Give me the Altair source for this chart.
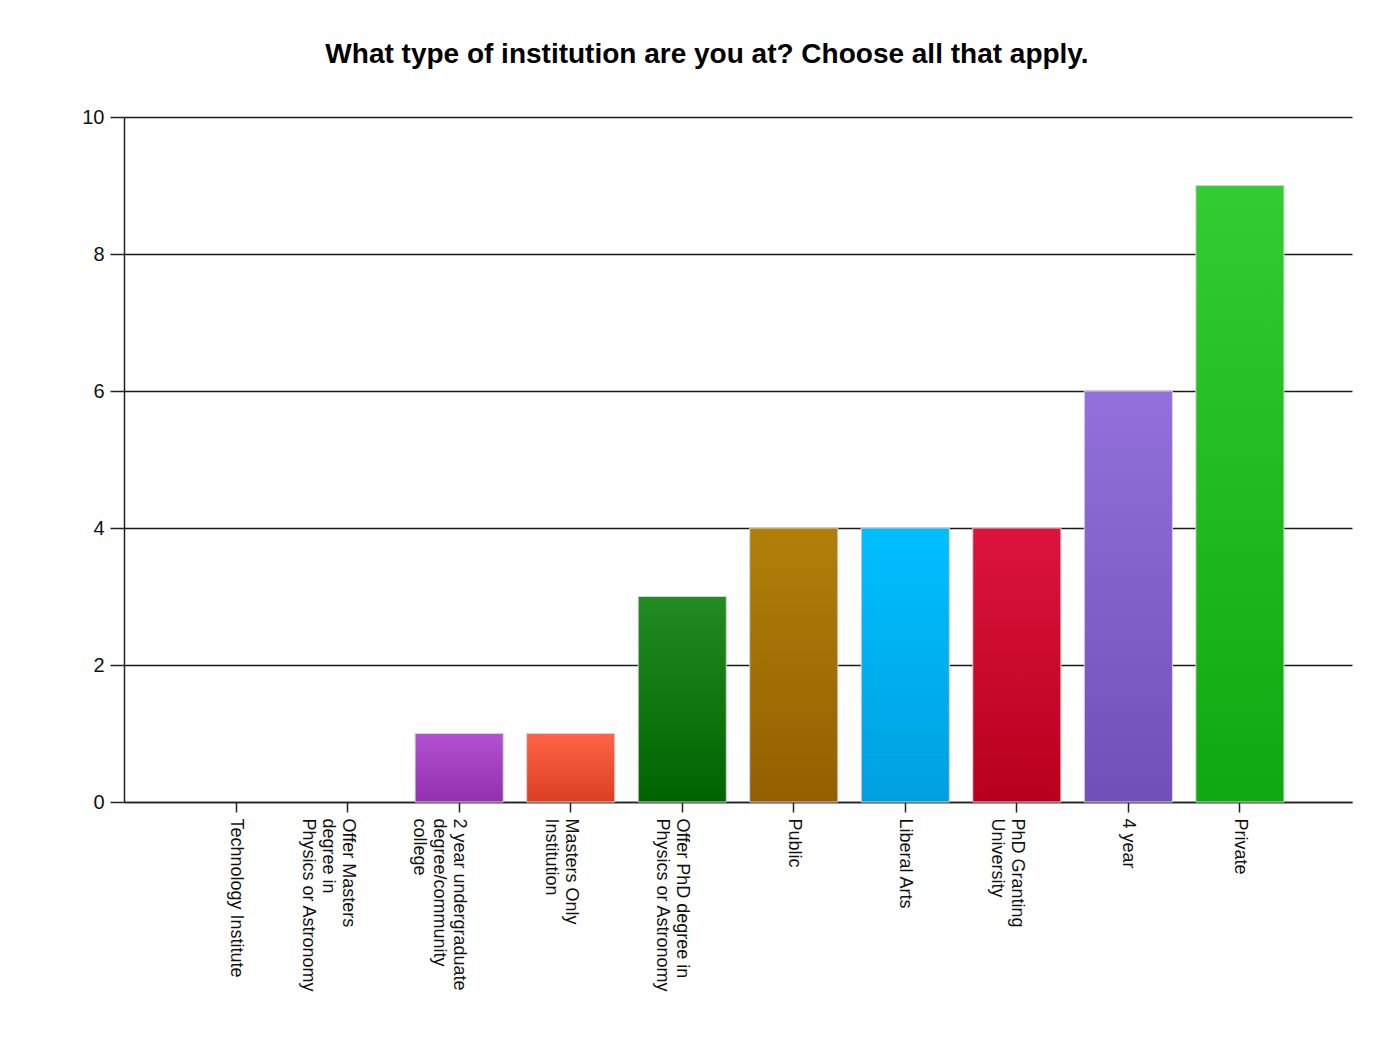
import altair as alt
import pandas as pd

title_text = "What type of institution are you at? Choose all that apply."

categories = [
    "Technology Institute",
    "Offer Masters\ndegree in\nPhysics or Astronomy",
    "2 year undergraduate\ndegree/community\ncollege",
    "Masters Only\nInstitution",
    "Offer PhD degree in\nPhysics or Astronomy",
    "Public",
    "Liberal Arts",
    "PhD Granting\nUniversity",
    "4 year",
    "Private",
]
values = [0, 0, 1, 1, 3, 4, 4, 4, 6, 9]
top_colors = ["#bbbbbb", "#bbbbbb", "#b450d2", "#ff6347", "#228b22", "#b0800a",
              "#00bfff", "#dc143c", "#9370db", "#32cd32"]
bottom_colors = ["#999999", "#999999", "#9230ae", "#d94020", "#006400", "#945f00",
                 "#00a0e0", "#b8001e", "#7050b8", "#10a810"]
y_ticks = [0, 2, 4, 6, 8, 10]

df = pd.DataFrame({"category": categories, "value": values})

FONT = "Liberation Sans"

x_enc = alt.X(
    "category:N",
    sort=categories,
    scale=alt.Scale(domain=categories, paddingInner=0.21, paddingOuter=0.61),
    axis=alt.Axis(
        title=None,
        labelAngle=90,
        labelAlign="left",
        labelBaseline="middle",
        labelPadding=6,
        labelFont=FONT,
        labelFontSize=18,
        labelColor="#111111",
        labelLineHeight=20,
        labelExpr="split(datum.label, '\\n')",
        labelLimit=400,
        tickSize=10,
        tickColor="#222222",
        tickWidth=1.5,
        domainColor="#222222",
        domainWidth=1.5,
        grid=False,
    ),
)
y_enc = alt.Y(
    "value:Q",
    scale=alt.Scale(domain=[0, 10], nice=False),
    axis=alt.Axis(
        title=None,
        values=y_ticks,
        labelFont=FONT,
        labelFontSize=20,
        labelColor="#111111",
        labelPadding=6,
        tickSize=14,
        tickColor="#222222",
        tickWidth=1.5,
        domainColor="#222222",
        domainWidth=1.5,
        grid=True,
        gridColor="#1a1a1a",
        gridWidth=1.6,
        gridOpacity=1,
    ),
)

base = alt.Chart(df).encode(x=x_enc, y=y_enc)

layers = []
for cat, val, top, bot in zip(categories, values, top_colors, bottom_colors):
    grad = alt.Gradient(
        gradient="linear",
        x1=0, y1=0, x2=0, y2=1,
        stops=[alt.GradientStop(color=top, offset=0),
               alt.GradientStop(color=bot, offset=1)],
    )
    layers.append(
        base.transform_filter(alt.datum.category == cat).mark_bar(
            fill=grad, stroke="#d4d4d4", strokeWidth=1,
            strokeOpacity=1 if val > 0 else 0,
        )
    )

chart = (
    alt.layer(*layers)
    .properties(
        width=1228,
        height=685,
        autosize=alt.AutoSizeParams(type="none"),
        padding={"left": 116, "top": 109, "right": 30, "bottom": 200},
        title=alt.TitleParams(
            text=title_text,
            font=FONT,
            fontSize=28,
            fontWeight="bold",
            color="#000000",
            anchor="middle",
            dx=-31,
            offset=38,
        ),
        background="white",
    )
    .configure_view(stroke="transparent")
)

chart.save("out.html", embed_options={"renderer": "svg", "actions": False})
